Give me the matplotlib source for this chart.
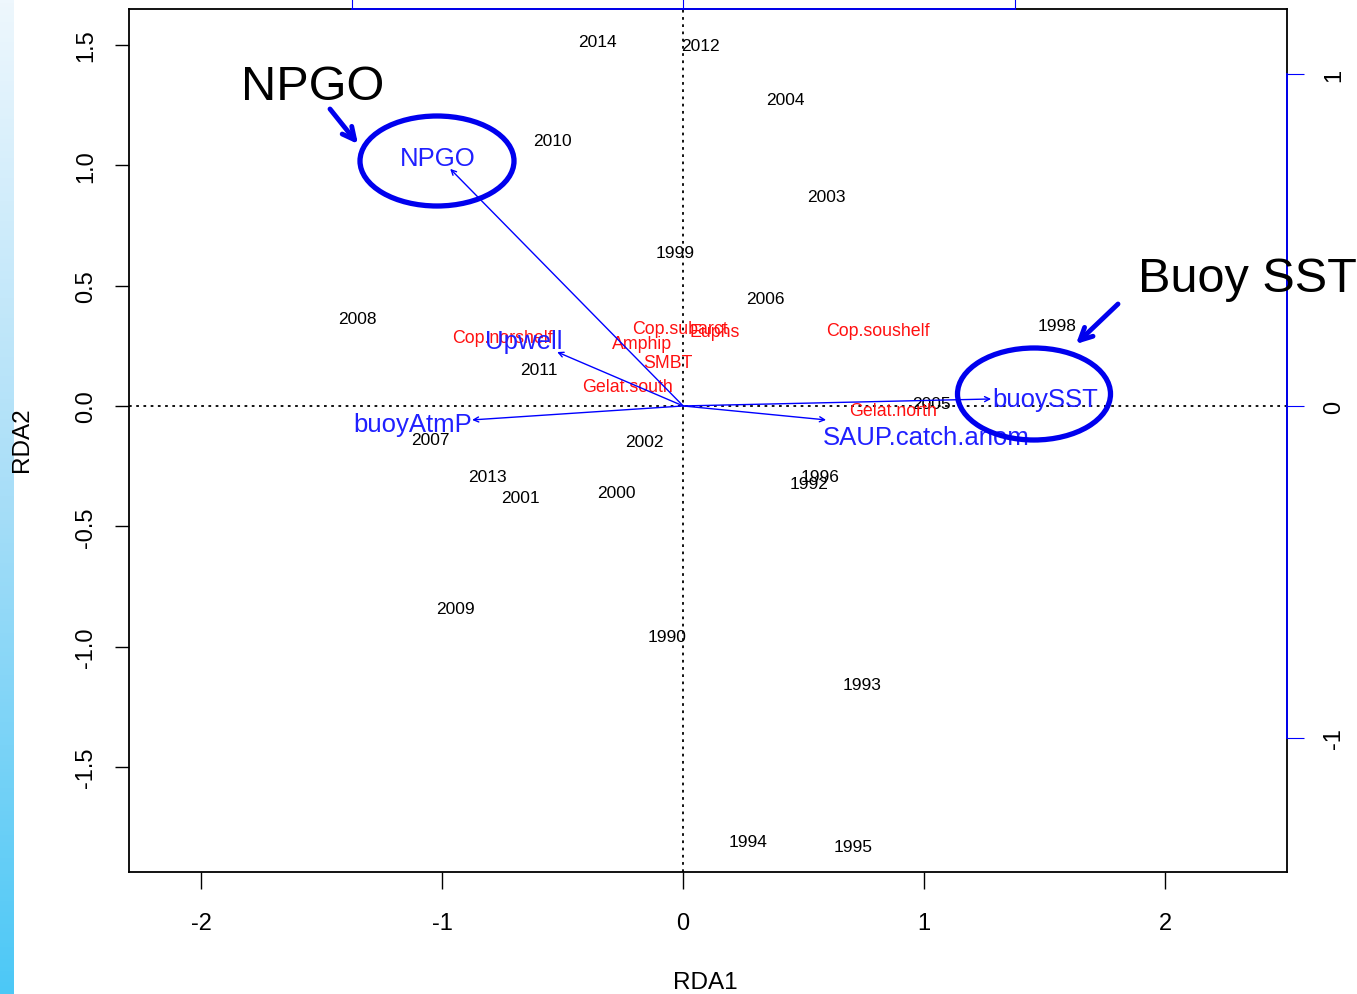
""" RDA biplot of zooplankton and environment, years as site labels """
import matplotlib
matplotlib.use('Agg')
import matplotlib.pyplot as plt
from matplotlib.patches import Ellipse
import numpy as np

plt.rcParams['font.family'] = ['Liberation Sans', 'DejaVu Sans']

# site scores (years)
years = ['2014', '2012', '2004', '2010', '2003', '1999', '2006', '2008',
         '1998', '2011', '2005', '2007', '2002', '2013', '2001', '2000',
         '1996', '1992', '2009', '1990', '1993', '1994', '1995']
year_x = [-0.357, 0.071, 0.423, -0.544, 0.593, -0.033, 0.340, -1.353,
          1.552, -0.598, 1.029, -1.050, -0.162, -0.813, -0.676, -0.278,
          0.568, 0.523, -0.946, -0.066, 0.743, 0.270, 0.705]
year_y = [1.521, 1.508, 1.280, 1.113, 0.877, 0.648, 0.457, 0.370,
          0.341, 0.162, 0.017, -0.129, -0.141, -0.283, -0.370, -0.349,
          -0.283, -0.312, -0.831, -0.951, -1.147, -1.799, -1.820]

# species scores
species = ['Cop.norshelf', 'Cop.subarct', 'Euphs', 'Amphip', 'SMBT',
           'Gelat.south', 'Cop.soushelf', 'Gelat.north']
spec_x = [-0.751, -0.012, 0.129, -0.170, -0.062, -0.232, 0.809, 0.871]
spec_y = [0.295, 0.332, 0.316, 0.270, 0.191, 0.091, 0.324, -0.012]

# environmental vectors (arrow heads)
env = ['NPGO', 'Upwell', 'buoyAtmP', 'buoySST', 'SAUP.catch.anom']
env_x = [-0.967, -0.523, -0.876, 1.278, 0.593]
env_y = [0.985, 0.224, -0.058, 0.029, -0.058]

# label placement for the arrows (offset in points, alignment)
env_lab = {'NPGO': (-9, 8, 'center'), 'Upwell': (-24, 8, 'center'),
           'buoyAtmP': (0, -3, 'right'), 'buoySST': (1, 0, 'left'),
           'SAUP.catch.anom': (-2, -12, 'left')}

W, H = 1357, 995
fig = plt.figure(figsize=(W / 100, H / 100), dpi=100)

# slide background strip on the left
bg = fig.add_axes([0, 0, 14 / W, 1])
grad = np.linspace(0, 1, 256).reshape(-1, 1)
cmap = matplotlib.colors.LinearSegmentedColormap.from_list(
    'bg', ['#eef7fd', '#a8def8', '#4cc8f6'])
bg.imshow(grad, aspect='auto', cmap=cmap, extent=[0, 1, 0, 1], origin='upper')
bg.axis('off')

pos = [129 / W, 1 - 873 / H, (1287 - 129) / W, (873 - 10) / H]
ax = fig.add_axes(pos)
xlim = (-2.30, 2.506)
ylim = (-1.936, 1.649)
ax.set_xlim(xlim)
ax.set_ylim(ylim)
for s in ax.spines.values():
    s.set_linewidth(1.3)
ax.set_xticks([-2, -1, 0, 1, 2])
ax.set_yticks([-1.5, -1.0, -0.5, 0.0, 0.5, 1.0, 1.5])
ax.set_xticklabels(['-2', '-1', '0', '1', '2'])
ax.set_yticklabels(['-1.5', '-1.0', '-0.5', '0.0', '0.5', '1.0', '1.5'])
ax.tick_params(axis='x', length=12, width=1, labelsize=17, pad=17)
ax.tick_params(axis='y', length=10, width=1, labelsize=17, pad=13,
               labelrotation=90)
for t in ax.get_yticklabels():
    t.set_va('center')

ax.axhline(0, color='black', ls=(0, (1.5, 2.5)), lw=1.3, zorder=1)
ax.axvline(0, color='black', ls=(0, (1.5, 2.5)), lw=1.3, zorder=1)

for lab, x, y in zip(years, year_x, year_y):
    ax.annotate(lab, xy=(x, y), xytext=(0, -1.5), textcoords='offset points',
                fontsize=12.5, ha='center', va='center', color='black')

for lab, x, y in zip(species, spec_x, spec_y):
    ax.annotate(lab, xy=(x, y), xytext=(0, -1.5), textcoords='offset points',
                fontsize=12.8, ha='center', va='center', color='#ff1010')

for lab, x, y in zip(env, env_x, env_y):
    ax.annotate('', xy=(x, y), xytext=(0, 0),
                arrowprops=dict(arrowstyle='->', color='blue', lw=1,
                                mutation_scale=9, shrinkA=0, shrinkB=0))
    dx, dy, ha = env_lab[lab]
    ax.annotate(lab, xy=(x, y), xytext=(dx, dy), textcoords='offset points',
                ha=ha, va='center', fontsize=18.5, color='#2020ff')

# secondary (species/env scaled) axes, drawn in blue on top and right
ax2 = fig.add_axes(pos)
ax2.patch.set_visible(False)
ax2.set_xlim(xlim[0] / 1.376, xlim[1] / 1.376)
ax2.set_ylim(ylim[0] / 1.379, ylim[1] / 1.379)
ax2.spines['left'].set_visible(False)
ax2.spines['bottom'].set_visible(False)
ax2.spines['right'].set_color('blue')
ax2.spines['top'].set_color('blue')
ax2.spines['right'].set_bounds(-1, 1)
ax2.spines['top'].set_bounds(-1, 1)
ax2.spines['right'].set_linewidth(1.3)
ax2.spines['top'].set_linewidth(1.3)
ax2.xaxis.set_ticks_position('top')
ax2.yaxis.set_ticks_position('right')
ax2.set_xticks([-1, 0, 1])
ax2.set_yticks([-1, 0, 1])
ax2.set_yticklabels(['-1', '0', '1'])
ax2.tick_params(axis='x', colors='blue', length=12, labeltop=False)
ax2.tick_params(axis='y', colors='blue', length=12, labelcolor='black',
                labelsize=17, pad=14, labelrotation=90)
for t in ax2.get_yticklabels():
    t.set_va('center')

fig.text(705 / W, 1 - 983 / H, 'RDA1', fontsize=17.5, ha='center', va='center')
fig.text(22 / W, 1 - 440 / H, 'RDA2', fontsize=17.5, ha='center', va='center',
         rotation=90)

# slide annotations
fig.text(313 / W, 1 - 88 / H, 'NPGO', fontsize=35, ha='center', va='center')
fig.text(1247 / W, 1 - 279 / H, 'Buoy SST', fontsize=35, ha='center',
         va='center')
fig.add_artist(Ellipse((437 / W, 1 - 162 / H), 154 / W, 90 / H,
                       transform=fig.transFigure, fill=False,
                       edgecolor='#0000ee', lw=3.8))
fig.add_artist(Ellipse((1034 / W, 1 - 395 / H), 153 / W, 92 / H,
                       transform=fig.transFigure, fill=False,
                       edgecolor='#0000ee', lw=3.8))
for start, end in [((330, 110), (358, 145)), ((1118, 305), (1076, 345))]:
    fig.add_artist(matplotlib.patches.FancyArrowPatch(
        (start[0] / W, 1 - start[1] / H), (end[0] / W, 1 - end[1] / H),
        transform=fig.transFigure, arrowstyle='->', color='#0000ee',
        lw=3.5, mutation_scale=22, shrinkA=0, shrinkB=0))

plt.savefig('out.png', dpi=100)
